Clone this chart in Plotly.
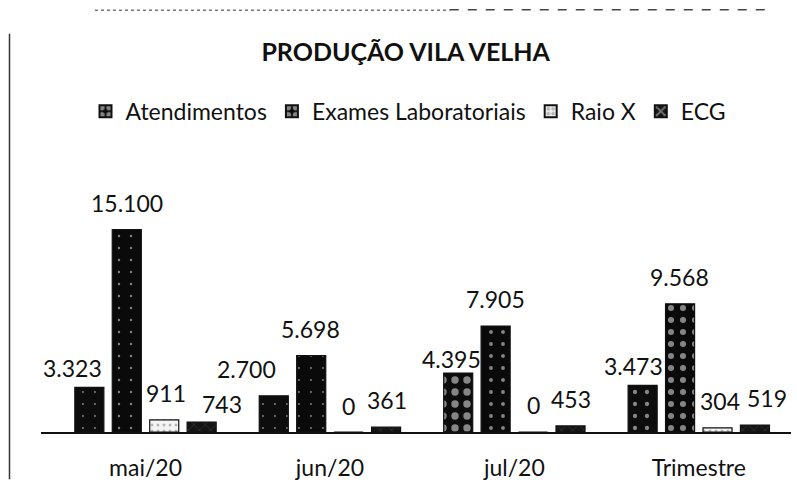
import plotly.graph_objects as go

# ---- data ----
categories = ["mai/20", "jun/20", "jul/20", "Trimestre"]
series_names = ["Atendimentos", "Exames Laboratoriais", "Raio X", "ECG"]
atendimentos = [3323, 2700, 4395, 3473]
exames = [15100, 5698, 7905, 9568]
raio_x = [911, 0, 0, 304]
ecg = [743, 361, 453, 519]
series_values = [atendimentos, exames, raio_x, ecg]

# ---- style ----
FONT = "Lato, 'Open Sans', Arial, sans-serif"
INK = "#111111"
fills = ["#0d0d0d", "#0a0a0a", "#f4f4f4", "#151515"]
pat_shapes = [".", ".", ".", "x"]
pat_fg = ["#ffffff", "#ffffff", "#777777", "#cccccc"]
pat_size = [12, 12, 6, 8]
pat_solidity = [[0.02, 0.02, 0.3, 0.1], [0.03, 0.02, 0.08, 0.2],
                [0.2, 0.2, 0.2, 0.2], [0.06, 0.06, 0.06, 0.06]]
slot_px = [-57, -19, 19, 57]          # pixel offset of each series in a group
label_dx = [[-16, -26, -6, -8], [0, 0, 0, 0], [1, 0, 0, 2], [19, 0, 0, 11]]
label_dy = [[-8, 0, -13, -8], [0, 0, 0, 0], [0, -1, 0, 0], [-9, 0, 0, 0]]

def fmt(v):
    return f"{v:,}".replace(",", ".")

fig = go.Figure()
for i, (name, vals) in enumerate(zip(series_names, series_values)):
    fig.add_trace(go.Bar(
        name=name, x=categories, y=vals,
        marker=dict(
            color=fills[i],
            line=dict(color=INK, width=1.2),
            pattern=dict(shape=pat_shapes[i], fgcolor=pat_fg[i],
                         solidity=pat_solidity[i], size=pat_size[i]),
        ),
    ))
    for j, (cat, v) in enumerate(zip(categories, vals)):
        fig.add_annotation(
            x=cat, y=v, xref="x", yref="y", text=fmt(v), showarrow=False,
            xanchor="center", yanchor="middle",
            xshift=slot_px[i] + label_dx[i][j], yshift=27 + label_dy[i][j],
            font=dict(family=FONT, size=23, color=INK),
        )

# scan artifacts: page border on the left and a broken line on top
fig.add_shape(type="line", xref="paper", yref="paper", x0=-0.042, x1=-0.042,
              y0=-0.18, y1=1.52, line=dict(color="#333333", width=1.5))
fig.add_shape(type="line", xref="paper", yref="paper", x0=0.072, x1=0.545,
              y0=1.61, y1=1.61, line=dict(color="#777777", width=1.5, dash="dot"))
fig.add_shape(type="line", xref="paper", yref="paper", x0=0.545, x1=0.972,
              y0=1.612, y1=1.612, line=dict(color="#444444", width=1.5, dash="dash"))

fig.update_layout(
    width=797, height=487,
    margin=dict(l=41, r=6, t=170, b=49),
    paper_bgcolor="white", plot_bgcolor="white",
    barmode="group", bargap=0.188, bargroupgap=0.224,
    title=dict(text="<b>PRODUÇÃO VILA VELHA</b>", x=0.509, xanchor="center",
               y=0.893, yanchor="middle",
               font=dict(family=FONT, size=25, color=INK)),
    legend=dict(orientation="h", x=0.49, xanchor="center", y=1.224, yanchor="middle",
                font=dict(family=FONT, size=23, color=INK),
                itemsizing="constant", traceorder="normal"),
    xaxis=dict(showline=True, linecolor=INK, linewidth=1.5, showgrid=False,
               ticks="", ticklabelstandoff=15,
               tickfont=dict(family=FONT, size=23, color=INK)),
    yaxis=dict(range=[0, 19550], visible=False, showgrid=False, zeroline=False),
    showlegend=True,
)

fig.write_html("out.html", config={"displayModeBar": False},
               post_script="document.body.style.margin='0';")
